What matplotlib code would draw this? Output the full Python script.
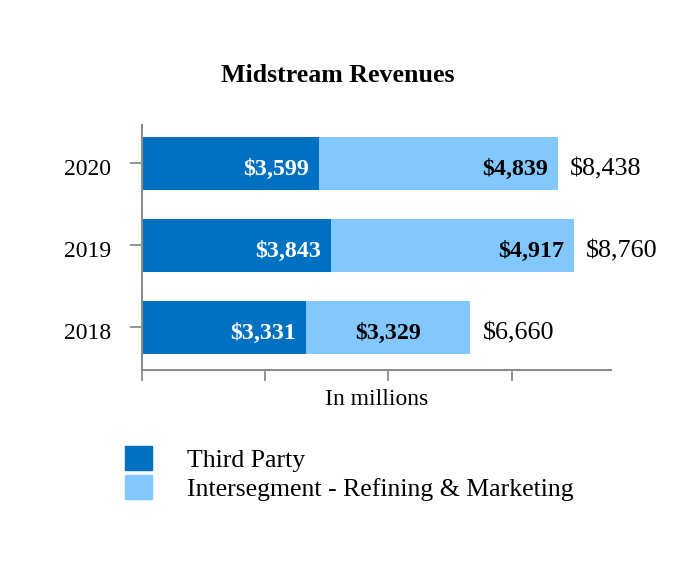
import matplotlib
matplotlib.use("Agg")
import matplotlib.pyplot as plt
from matplotlib.patches import Patch
from matplotlib.transforms import ScaledTranslation, offset_copy

years = ["2018", "2019", "2020"]
third_party = [3331, 3843, 3599]
intersegment = [3329, 4917, 4839]
totals = [6660, 8760, 8438]
series_names = ["Third Party", "Intersegment - Refining & Marketing"]
xticks = [0, 2500, 5000, 7500]

DARK = "#0070C0"
LIGHT = "#82C8FF"
GREY = "#8C8C8C"
plt.rcParams["font.family"] = ["Liberation Serif", "DejaVu Serif"]

fig = plt.figure(figsize=(6.76, 5.78), dpi=100)
ax = fig.add_axes([0.210, 0.360, 0.694, 0.424])

# shift y tick labels slightly downward, as in the reference
shift = ScaledTranslation(0, -4 / 100, fig.dpi_scale_trans)
_orig_text1 = ax.get_yaxis_text1_transform
def _shifted_text1(pad_points):
    t, va, ha = _orig_text1(pad_points)
    return t + shift, va, ha
ax.get_yaxis_text1_transform = _shifted_text1
ax.yaxis.reset_ticks()

y = list(range(len(years)))
h = 0.65
ax.barh(y, third_party, height=h, color=DARK)
ax.barh(y, intersegment, left=third_party, height=h, color=LIGHT)

tr = offset_copy(ax.transData, fig=fig, x=0, y=-3.5, units="dots")
pad = 200
for i in y:
    tp = third_party[i]
    it = intersegment[i]
    ax.text(tp - pad, i, f"${tp:,}", ha="right", va="center_baseline", color="white",
            fontsize=17.3, fontweight="bold", transform=tr)
    if i == 0:
        ax.text(tp + it / 2, i, f"${it:,}", ha="center", va="center_baseline", color="black",
                fontsize=17.3, fontweight="bold", transform=tr)
    else:
        ax.text(tp + it - pad, i, f"${it:,}", ha="right", va="center_baseline", color="black",
                fontsize=17.3, fontweight="bold", transform=tr)
    ax.text(totals[i] + 250, i, f"${totals[i]:,}", ha="left", va="center_baseline",
            color="black", fontsize=18.8, transform=tr)

ax.set_xlim(0, 9520)
ax.set_ylim(-0.52, 2.47)
ax.set_yticks(y)
ax.set_yticklabels(years, fontsize=17, va="center_baseline")
ax.set_xticks(xticks)
ax.set_xticklabels([])
ax.tick_params(axis="y", length=8.5, width=1.3, color=GREY, pad=13.5)
ax.tick_params(axis="x", length=8, width=1.3, color=GREY)
for s in ["top", "right"]:
    ax.spines[s].set_visible(False)
for s in ["left", "bottom"]:
    ax.spines[s].set_color(GREY)
    ax.spines[s].set_linewidth(1.5)
ax.set_xlabel("In millions", fontsize=17, labelpad=2)

fig.text(0.5, 1 - 75 / 578, "Midstream Revenues", ha="center", va="center",
         fontsize=18.6, fontweight="bold")

handles = [Patch(color=DARK), Patch(color=LIGHT)]
fig.legend(handles, series_names, loc="upper left", bbox_to_anchor=(125 / 676, 1 - 446 / 578),
           frameon=False, fontsize=18.5, handlelength=1.05, handleheight=1.05,
           handletextpad=1.35, labelspacing=0.14, borderpad=0, borderaxespad=0)

fig.savefig("out.png", dpi=100)
